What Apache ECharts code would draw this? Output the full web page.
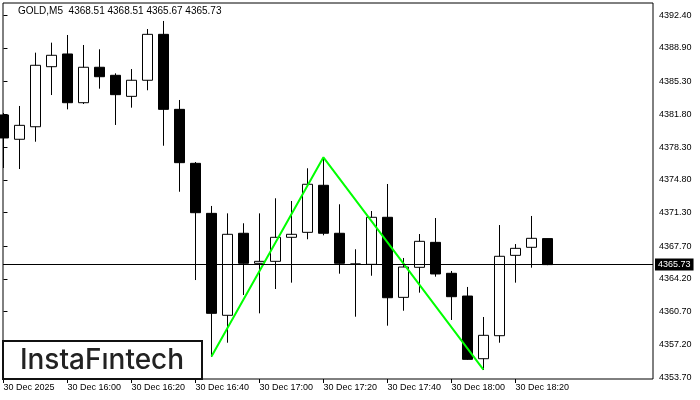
<!DOCTYPE html>
<html>
<head>
<meta charset="utf-8">
<title>GOLD M5</title>
<script src="https://cdn.jsdelivr.net/npm/echarts@6.0.0/dist/echarts.min.js"></script>
<style>
  html, body { margin: 0; padding: 0; background: #fff; }
  #chart { width: 700px; height: 400px; }
</style>
</head>
<body>
<div id="chart"></div>
<script>
// bar 0 = 30 Dec 15:40, one bar every 5 minutes
const opens  = [4381.73, 4379.13, 4380.47, 4386.89, 4388.25, 4383.04, 4386.83, 4385.97, 4383.72, 4385.44,
                4390.35, 4382.33, 4376.56, 4371.21, 4360.31, 4369.08, 4365.87, 4366.08, 4368.65, 4369.18,
                4374.21, 4369.08, 4365.78, 4365.76, 4370.79, 4362.23, 4365.44, 4368.11, 4364.80, 4362.37,
                4355.67, 4358.13, 4366.72, 4367.58, 4368.51];
const closes = [4379.27, 4380.62, 4387.04, 4388.11, 4383.04, 4386.83, 4385.82, 4383.90, 4385.44, 4390.35,
                4382.33, 4376.63, 4371.28, 4360.52, 4368.97, 4365.87, 4366.08, 4368.65, 4368.97, 4374.32,
                4369.08, 4365.87, 4365.80, 4370.79, 4362.19, 4365.47, 4368.22, 4364.73, 4362.30, 4355.60,
                4358.17, 4366.62, 4367.47, 4368.54, 4365.73];
const lows   = [4376.06, 4375.95, 4378.87, 4383.86, 4382.33, 4382.90, 4384.54, 4380.66, 4382.51, 4384.37,
                4378.44, 4373.52, 4364.08, 4355.88, 4357.38, 4362.48, 4360.52, 4363.12, 4363.80, 4368.44,
                4368.86, 4364.76, 4360.16, 4364.54, 4359.20, 4360.80, 4362.73, 4364.44, 4359.81, 4355.53,
                4354.46, 4357.38, 4363.80, 4365.40, 4365.67];
const highs  = [4381.94, 4382.69, 4388.39, 4389.46, 4390.28, 4389.21, 4388.75, 4386.18, 4386.64, 4390.92,
                4391.78, 4383.33, 4376.70, 4372.00, 4371.21, 4370.15, 4371.21, 4372.82, 4372.53, 4376.03,
                4377.16, 4372.18, 4367.37, 4371.46, 4374.35, 4366.44, 4369.00, 4370.71, 4365.05, 4363.34,
                4360.13, 4369.96, 4367.93, 4370.93, 4368.51];

const xTickIndex  = [0, 4, 8, 12, 16, 20, 24, 28, 32];
const xTickLabels = ['30 Dec 2025', '30 Dec 16:00', '30 Dec 16:20', '30 Dec 16:40', '30 Dec 17:00',
                     '30 Dec 17:20', '30 Dec 17:40', '30 Dec 18:00', '30 Dec 18:20'];
const yTicks = [4353.70, 4357.20, 4360.70, 4364.20, 4367.70, 4371.30, 4374.80, 4378.30, 4381.80,
                4385.30, 4388.90, 4392.40];
const lastPrice = 4365.73;

// double top outline (bar index, price)
const patternIndex = [13, 20, 30];
const patternPrice = [4355.9, 4377.2, 4354.5];

const fontName = '"Liberation Sans", Arial, sans-serif';

let candles = opens.map((o, i) => [i, o, closes[i], lows[i], highs[i]]);
let pattern = patternIndex.map((x, i) => [x, patternPrice[i]]);

const chart = echarts.init(document.getElementById('chart'));

let option = {
  animation: false,
  backgroundColor: '#fff',
  grid: {
    show: true,
    left: 3,
    right: 47,
    top: 3,
    bottom: 21,
    borderColor: '#000',
    borderWidth: 1,
    backgroundColor: '#fff',
  },
  xAxis: {
    type: 'value',
    min: -0.03,
    max: 40.6,
    splitLine: { show: false },
    axisLine: { show: false },
    axisTick: {
      show: true,
      customValues: xTickIndex,
      length: 4,
      lineStyle: { color: '#000' },
    },
    axisLabel: {
      customValues: xTickIndex,
      formatter: (v) => xTickLabels[xTickIndex.indexOf(Math.round(v))] || '',
      align: 'left',
      margin: 4,
      color: '#000',
      fontSize: 9,
      fontFamily: fontName,
    },
  },
  yAxis: {
    type: 'value',
    position: 'right',
    min: 4353.5,
    max: 4393.7,
    splitLine: { show: false },
    axisLine: { show: false },
    axisTick: {
      show: true,
      customValues: yTicks,
      length: 4,
      lineStyle: { color: '#000' },
    },
    axisLabel: {
      customValues: yTicks,
      formatter: (v) => v.toFixed(2),
      margin: 6,
      color: '#000',
      fontSize: 9,
      fontFamily: fontName,
    },
  },
  graphic: [
    {
      type: 'text',
      left: 18,
      top: 6,
      style: {
        text: 'GOLD,M5  4368.51 4368.51 4365.67 4365.73',
        fill: '#000',
        font: '10px ' + fontName,
      },
    },
    // logo box bottom-left
    {
      type: 'rect',
      shape: { x: 3, y: 341, width: 199, height: 38 },
      style: { fill: '#fff', stroke: '#111', lineWidth: 2 },
      z: 100,
    },
    {
      type: 'text',
      x: 102,
      y: 361,
      style: {
        text: 'InstaFıntech',
        fill: '#222',
        font: '500 28px Inter, "Noto Sans", sans-serif',
        align: 'center',
        verticalAlign: 'middle',
      },
      z: 101,
    },
  ],
  series: [
    {
      // last price line, kept behind the bars
      type: 'line',
      data: [],
      z: 1,
      markLine: {
        silent: true,
        symbol: 'none',
        lineStyle: { color: '#000', width: 1, type: 'solid' },
        label: {
          show: true,
          position: 'end',
          formatter: lastPrice.toFixed(2),
          color: '#fff',
          backgroundColor: '#000',
          padding: [2, 3, 1, 3],
          distance: 2,
          fontSize: 9,
          fontFamily: fontName,
        },
        data: [{ yAxis: lastPrice }],
      },
    },
    {
      type: 'candlestick',
      z: 2,
      barWidth: 10,
      data: candles,
      itemStyle: {
        color: '#fff',
        color0: '#000',
        borderColor: '#000',
        borderColor0: '#000',
        borderColorDoji: '#000',
        borderWidth: 1,
      },
    },
    {
      type: 'line',
      z: 3,
      data: pattern,
      symbol: 'none',
      lineStyle: { color: '#00ff00', width: 2 },
    },
  ],
};

chart.setOption(option);
</script>
</body>
</html>
